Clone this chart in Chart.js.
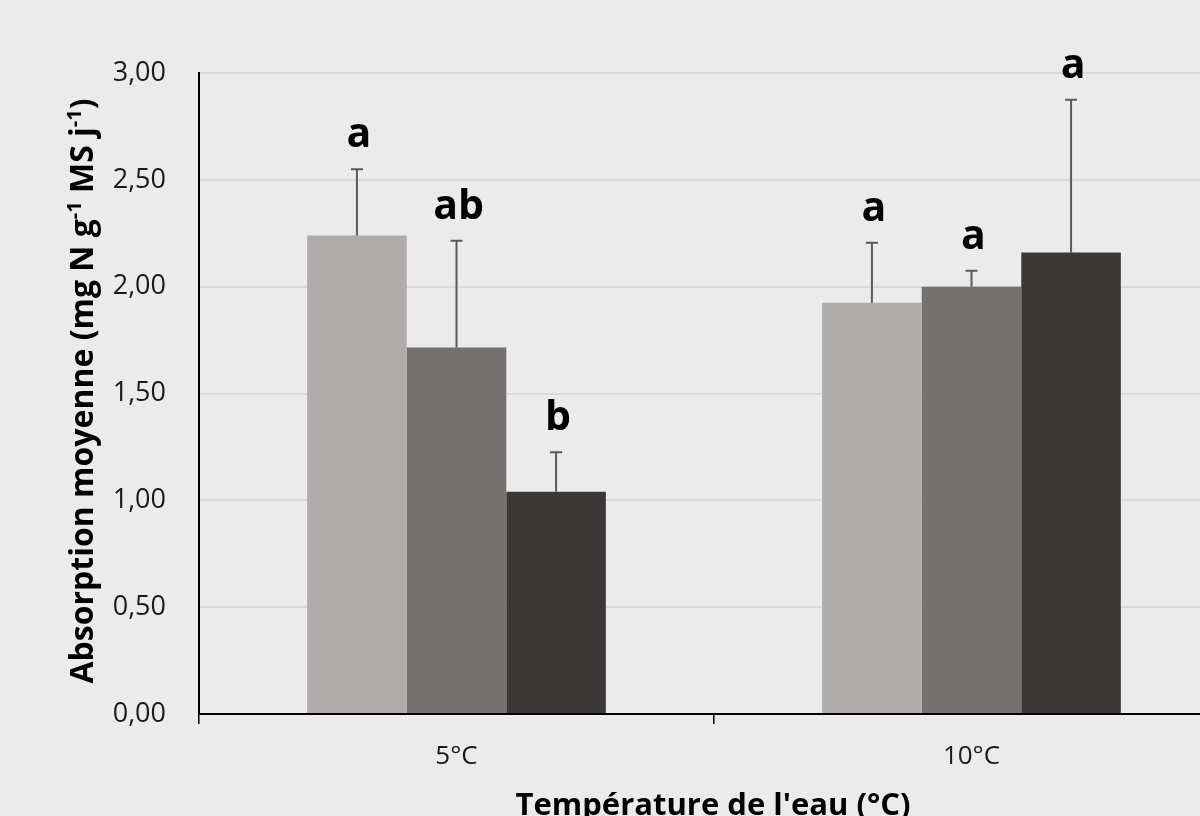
<!DOCTYPE html>
<html>
<head>
<meta charset="utf-8">
<script src="https://cdn.jsdelivr.net/npm/chart.js@4.4.1/dist/chart.umd.min.js"></script>
<style>
  html, body { margin: 0; padding: 0; background: #ebebeb; overflow: hidden; }
  #wrap { width: 1240px; height: 816px; }
</style>
</head>
<body>
<div id="wrap"><canvas id="absorption" width="1240" height="816"></canvas></div>
<script>
/* ------------------------------------------------------------
   Data
------------------------------------------------------------ */
var categories = ['5°C', '10°C'];
var yTicks     = [0, 0.5, 1, 1.5, 2, 2.5, 3];

var serie1Mean = [2.24, 1.925];
var serie1Sd   = [0.31, 0.28];
var serie1Sig  = ['a', 'a'];

var serie2Mean = [1.715, 2.00];
var serie2Sd   = [0.50, 0.075];
var serie2Sig  = ['ab', 'a'];

var serie3Mean = [1.04, 2.16];
var serie3Sd   = [0.185, 0.715];
var serie3Sig  = ['b', 'a'];

var COLORS = {
  bg:    '#ebebeb',
  grid:  '#d9d9d9',
  s1:    '#b0acab',
  s2:    '#75716f',
  s3:    '#3a3937',
  err:   '#5a5a5a',
  text:  '#1a1a1a'
};

var FONT = '"Open Sans", "DejaVu Sans", sans-serif';

/* ------------------------------------------------------------
   Plugins: background, error bars + letters, axis titles
------------------------------------------------------------ */
var bgPlugin = {
  id: 'bg',
  beforeDraw: function (chart) {
    var ctx = chart.ctx;
    ctx.save();
    ctx.fillStyle = COLORS.bg;
    ctx.fillRect(0, 0, chart.width, chart.height);
    ctx.restore();
  }
};

var errorPlugin = {
  id: 'errors',
  afterDatasetsDraw: function (chart) {
    var ctx = chart.ctx;
    var y = chart.scales.y;
    ctx.save();
    chart.data.datasets.forEach(function (ds, di) {
      var meta = chart.getDatasetMeta(di);
      meta.data.forEach(function (bar, i) {
        var top = y.getPixelForValue(ds.data[i] + ds.sd[i]);
        ctx.strokeStyle = COLORS.err;
        ctx.lineWidth = 2;
        ctx.beginPath();
        ctx.moveTo(bar.x, bar.y);
        ctx.lineTo(bar.x, top);
        ctx.moveTo(bar.x - 6, top);
        ctx.lineTo(bar.x + 6, top);
        ctx.stroke();

        ctx.fillStyle = '#000';
        ctx.font = 'bold 41px ' + FONT;
        ctx.textAlign = 'center';
        ctx.textBaseline = 'alphabetic';
        ctx.fillText(ds.sig[i], bar.x + 2, top - 22);
      });
    });
    ctx.restore();
  }
};

var titlePlugin = {
  id: 'titles',
  afterDraw: function (chart) {
    var ctx = chart.ctx;
    ctx.save();
    ctx.fillStyle = '#000';

    // y title with superscripts
    var parts = [
      { t: 'Absorption moyenne (mg N g', sup: false },
      { t: '-1', sup: true },
      { t: ' MS j', sup: false },
      { t: '-1', sup: true },
      { t: ')', sup: false }
    ];
    var big = 'bold 32px ' + FONT;
    var small = 'bold 20px ' + FONT;
    var total = 0;
    parts.forEach(function (p) {
      ctx.font = p.sup ? small : big;
      p.w = ctx.measureText(p.t).width;
      total += p.w;
    });
    ctx.translate(93, 391);
    ctx.rotate(-Math.PI / 2);
    ctx.textBaseline = 'alphabetic';
    ctx.textAlign = 'left';
    var x = -total / 2;
    parts.forEach(function (p) {
      ctx.font = p.sup ? small : big;
      ctx.fillText(p.t, x, p.sup ? -12 : 0);
      x += p.w;
    });
    ctx.setTransform(1, 0, 0, 1, 0, 0);

    // x title
    ctx.font = 'bold 31px ' + FONT;
    ctx.textAlign = 'center';
    ctx.textBaseline = 'alphabetic';
    ctx.fillText("Température de l'eau (°C)", 713, 815);
    ctx.restore();
  }
};

/* ------------------------------------------------------------
   Chart
------------------------------------------------------------ */
function makeSet(label, mean, sd, sig, color) {
  return {
    label: label,
    data: mean,
    sd: sd,
    sig: sig,
    backgroundColor: color,
    borderWidth: 0,
    barPercentage: 1,
    categoryPercentage: 0.58
  };
}

new Chart(document.getElementById('absorption'), {
  type: 'bar',
  data: {
    labels: categories,
    datasets: [
      makeSet('s1', serie1Mean, serie1Sd, serie1Sig, COLORS.s1),
      makeSet('s2', serie2Mean, serie2Sd, serie2Sig, COLORS.s2),
      makeSet('s3', serie3Mean, serie3Sd, serie3Sig, COLORS.s3)
    ]
  },
  options: {
    responsive: false,
    animation: false,
    layout: { padding: { top: 73, right: 11, left: 0, bottom: 0 } },
    plugins: { legend: { display: false }, tooltip: { enabled: false } },
    scales: {
      x: {
        grid: {
          offset: true,
          drawOnChartArea: false,
          drawTicks: true,
          tickLength: 10,
          color: '#000',
          lineWidth: 1.5
        },
        border: { display: true, color: '#000', width: 2 },
        ticks: {
          font: { family: FONT, size: 26 },
          color: COLORS.text,
          padding: 17
        },
        afterFit: function (s) { s.height = 102; }
      },
      y: {
        min: 0,
        max: 3,
        afterBuildTicks: function (s) {
          s.ticks = yTicks.map(function (v) { return { value: v }; });
        },
        grid: { color: COLORS.grid, lineWidth: 2, drawTicks: false },
        border: { display: true, color: '#000', width: 2 },
        ticks: {
          font: { family: FONT, size: 27 },
          color: COLORS.text,
          padding: 33,
          callback: function (v) { return Number(v).toFixed(2).replace('.', ','); }
        },
        afterFit: function (s) { s.width = 199; }
      }
    }
  },
  plugins: [bgPlugin, errorPlugin, titlePlugin]
});
</script>
</body>
</html>
